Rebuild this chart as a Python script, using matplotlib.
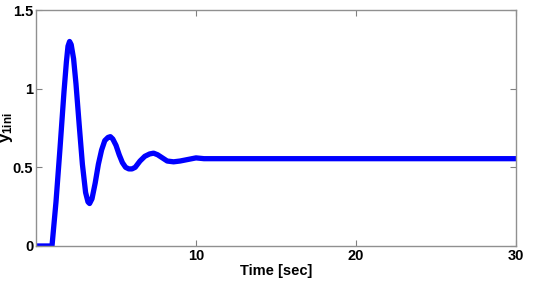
import matplotlib
matplotlib.use("Agg")
import matplotlib.pyplot as plt

# step response
time_s = [0.0, 1.0, 1.25, 1.5, 1.75, 1.9, 2.0, 2.1, 2.2, 2.35, 2.5, 2.7, 2.9,
          3.1, 3.25, 3.35, 3.5, 3.7, 3.9, 4.1, 4.3, 4.5, 4.65, 4.8, 5.0, 5.2,
          5.4, 5.6, 5.8, 6.0, 6.2, 6.5, 6.8, 7.1, 7.35, 7.6, 7.9, 8.2, 8.6,
          9.0, 9.5, 10.0, 10.5, 11.0, 30.0]
y_1ini = [0.0, 0.0, 0.28, 0.62, 0.98, 1.17, 1.27, 1.30, 1.28, 1.19, 1.03, 0.77,
          0.52, 0.34, 0.28, 0.27, 0.30, 0.40, 0.52, 0.61, 0.67, 0.69, 0.695,
          0.68, 0.64, 0.58, 0.53, 0.50, 0.49, 0.49, 0.50, 0.54, 0.57, 0.585,
          0.59, 0.58, 0.56, 0.54, 0.535, 0.54, 0.55, 0.56, 0.555, 0.555, 0.555]

x_ticks = [10, 20, 30]
y_ticks = [0, 0.5, 1, 1.5]
y_tick_labels = ["0", "0.5", "1", "1.5"]

plt.rcParams["font.family"] = ["Liberation Sans Narrow", "Liberation Sans", "DejaVu Sans"]
plt.rcParams["font.weight"] = "bold"
plt.rcParams["mathtext.fontset"] = "custom"
plt.rcParams["mathtext.rm"] = "Liberation Sans:bold"
plt.rcParams["mathtext.it"] = "Liberation Sans:bold"
plt.rcParams["mathtext.bf"] = "Liberation Sans:bold"

fig = plt.figure(figsize=(5.34, 2.82), dpi=100)
ax = fig.add_axes([0.0674, 0.1277, 0.8989, 0.8368])
ax.plot(time_s, y_1ini, color="#0000ff", linewidth=3.8, solid_joinstyle="round")

ax.set_xlim(0, 30)
ax.set_ylim(0, 1.5)
ax.set_xticks(x_ticks)
ax.set_xticklabels([str(t) for t in x_ticks])
ax.set_yticks(y_ticks)
ax.set_yticklabels(y_tick_labels)
ax.tick_params(direction="in", length=4, width=0.8, color="#808080",
               labelsize=10.5, pad=2, top=True, right=True)
for lbl in ax.get_xticklabels() + ax.get_yticklabels():
    lbl.set_fontweight("bold")
for spine in ax.spines.values():
    spine.set_color("#909090")
    spine.set_linewidth(1.0)

ax.set_xlabel("Time [sec]", fontsize=10.5, fontweight="bold", labelpad=1)
ax.set_ylabel(r"$\mathrm{y}_{\mathrm{1ini}}$", fontsize=12)
ax.yaxis.set_label_coords(-0.044, 0.5)

fig.savefig("out.png", dpi=100)
